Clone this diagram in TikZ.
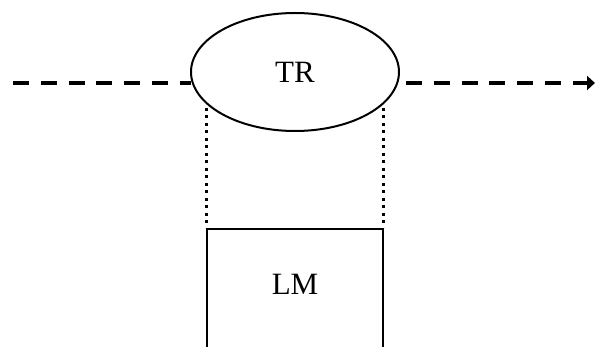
\documentclass[tikz,border=0pt]{standalone}
\usepackage{fontspec}
\setmainfont{Liberation Serif}
\usetikzlibrary{shapes.geometric,arrows.meta}
\tikzset{
  lbl/.style={font=\fontsize{31}{36}\selectfont},
  ellnode/.style={ellipse,draw,line width=2pt,minimum width=208pt,minimum height=118pt,inner sep=0pt},
  boxnode/.style={rectangle,draw,line width=2pt,minimum width=176pt,minimum height=150pt,inner sep=0pt,anchor=north},
  dashline/.style={line width=3.3pt,dash pattern=on 16pt off 11.8pt},
  dotline/.style={line width=3pt,dash pattern=on 2.8pt off 4.7pt},
}
\begin{document}
\begin{tikzpicture}[x=1pt,y=-1pt]
\useasboundingbox (0,0) rectangle (595,347);
\clip (0,0) rectangle (595,347);
\node[ellnode,lbl] (TR) at (295,72) {TR};
\node[boxnode] (LMbox) at (295,228) {};
\node[lbl] (LM) at (295,284) {LM};
\coordinate (inL) at (13,83);
\coordinate (inR) at (191,83);
\coordinate (outL) at (406,83);
\coordinate (outR) at (595,83);
\draw[dashline] (inL) -- (inR);
\draw[dashline,-{Triangle[length=8pt,width=14pt]}] (outL) -- (outR);
\coordinate (dL) at (206.5,108);
\coordinate (dR) at (383,108);
\draw[dotline] (dL) -- (dL |- LMbox.north);
\draw[dotline] (dR) -- (dR |- LMbox.north);
\end{tikzpicture}
\end{document}
